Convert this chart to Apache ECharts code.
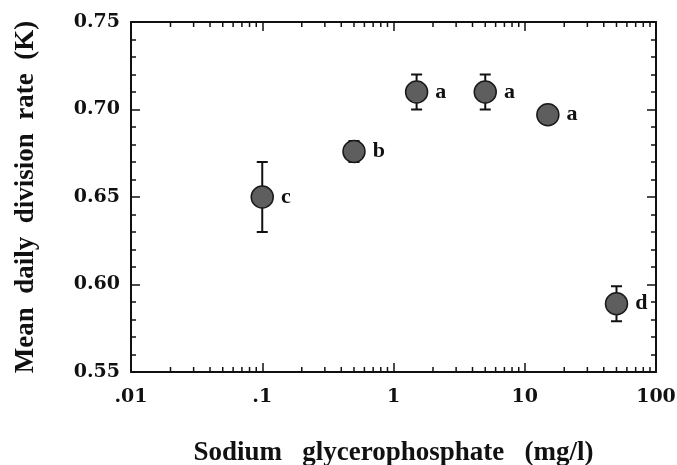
<!DOCTYPE html>
<html>
<head>
<meta charset="utf-8">
<script src="https://cdn.jsdelivr.net/npm/echarts@6/dist/echarts.min.js"></script>
<style>
  html, body { margin: 0; padding: 0; background: #fff; }
  #chart { width: 677px; height: 465px; }
</style>
</head>
<body>
<div id="chart"></div>
<script>
// sodium glycerophosphate concentration (mg/l) and mean daily division rate (K)
const concentrations = [0.1, 0.5, 1.5, 5, 15, 50];
const divisionRate = [0.650, 0.676, 0.710, 0.710, 0.697, 0.589];
const errorSize = [0.020, 0.006, 0.010, 0.010, 0.005, 0.010];
const groupLetters = ["c", "b", "a", "a", "a", "d"];
const xTickLabels = [".01", ".1", "1", "10", "100"];

const serif = "'Liberation Serif', 'Times New Roman', serif";
const tickFont = "'DejaVu Serif', serif";

// log minor ticks 2..9 in every decade
let minorTicks = [];
for (let d = -2; d < 2; d++) {
  for (let k = 2; k <= 9; k++) minorTicks.push([k * Math.pow(10, d), 0.55]);
}

const points = concentrations.map((c, i) => [c, divisionRate[i]]);
const errorBars = concentrations.map((c, i) => [
  c,
  divisionRate[i] - errorSize[i],
  divisionRate[i] + errorSize[i]
]);

const chart = echarts.init(document.getElementById("chart"));

chart.setOption({
  animation: false,
  grid: { left: 131, right: 21, top: 22, bottom: 93, outerBoundsMode: "none", containLabel: false },
  xAxis: [
    {
      type: "log",
      logBase: 10,
      min: 0.01,
      max: 100,
      name: "Sodium   glycerophosphate   (mg/l)",
      nameLocation: "middle",
      nameGap: 68,
      nameTextStyle: { fontFamily: serif, fontWeight: "bold", fontSize: 27, color: "#111" },
      axisLine: { show: true, lineStyle: { color: "#111", width: 2 } },
      axisTick: { inside: true, length: 9, lineStyle: { color: "#111", width: 1.5 } },
      splitLine: { show: false },
      axisLabel: {
        margin: 16,
        fontFamily: tickFont,
        fontWeight: "bold",
        fontSize: 19,
        color: "#111",
        formatter: v => xTickLabels[Math.round(Math.log10(v)) + 2]
      }
    },
    {
      type: "log",
      logBase: 10,
      min: 0.01,
      max: 100,
      position: "top",
      axisLine: { show: true, lineStyle: { color: "#111", width: 2 } },
      axisTick: { inside: true, length: 9, lineStyle: { color: "#111", width: 1.5 } },
      axisLabel: { show: false },
      splitLine: { show: false }
    }
  ],
  yAxis: [
    {
      type: "value",
      min: 0.55,
      max: 0.75,
      interval: 0.05,
      name: "Mean  daily  division  rate  (K)",
      nameLocation: "middle",
      nameGap: 91,
      nameTextStyle: { fontFamily: serif, fontWeight: "bold", fontSize: 27, color: "#111" },
      axisLine: { show: true, lineStyle: { color: "#111", width: 2 } },
      axisTick: { inside: true, length: 9, lineStyle: { color: "#111", width: 1.5 } },
      minorTick: { show: true, splitNumber: 5, length: 5, lineStyle: { color: "#111", width: 1.5 } },
      splitLine: { show: false },
      axisLabel: {
        margin: 11,
        padding: [5, 0, 0, 0],
        fontFamily: tickFont,
        fontWeight: "bold",
        fontSize: 19,
        color: "#111",
        formatter: v => v.toFixed(2)
      }
    },
    {
      type: "value",
      min: 0.55,
      max: 0.75,
      interval: 0.05,
      position: "right",
      axisLine: { show: true, lineStyle: { color: "#111", width: 2 } },
      axisTick: { inside: true, length: 9, lineStyle: { color: "#111", width: 1.5 } },
      minorTick: { show: true, splitNumber: 5, length: 5, lineStyle: { color: "#111", width: 1.5 } },
      axisLabel: { show: false },
      splitLine: { show: false }
    }
  ],
  series: [
    {
      // minor log ticks on bottom and top
      type: "custom",
      silent: true,
      data: minorTicks,
      renderItem: (params, api) => {
        const x = api.coord([api.value(0), api.value(1)])[0];
        const cs = params.coordSys;
        const len = 5;
        return {
          type: "group",
          children: [
            { type: "line", shape: { x1: x, y1: cs.y + cs.height, x2: x, y2: cs.y + cs.height - len }, style: { stroke: "#111", lineWidth: 1.5 } },
            { type: "line", shape: { x1: x, y1: cs.y, x2: x, y2: cs.y + len }, style: { stroke: "#111", lineWidth: 1.5 } }
          ]
        };
      }
    },
    {
      // error bars
      type: "custom",
      silent: true,
      data: errorBars,
      z: 3,
      renderItem: (params, api) => {
        const low = api.coord([api.value(0), api.value(1)]);
        const high = api.coord([api.value(0), api.value(2)]);
        const w = 5.5;
        const st = { stroke: "#111", lineWidth: 2 };
        return {
          type: "group",
          children: [
            { type: "line", shape: { x1: low[0], y1: low[1], x2: high[0], y2: high[1] }, style: st },
            { type: "line", shape: { x1: low[0] - w, y1: low[1], x2: low[0] + w, y2: low[1] }, style: st },
            { type: "line", shape: { x1: high[0] - w, y1: high[1], x2: high[0] + w, y2: high[1] }, style: st }
          ]
        };
      }
    },
    {
      type: "scatter",
      data: points,
      z: 5,
      symbol: "circle",
      symbolSize: 22,
      itemStyle: { color: "#5e5e5e", borderColor: "#1a1a1a", borderWidth: 1.5, opacity: 1 },
      label: {
        show: true,
        position: "right",
        distance: 7,
        fontFamily: serif,
        fontWeight: "bold",
        fontSize: 22,
        color: "#111",
        formatter: p => groupLetters[p.dataIndex]
      }
    }
  ]
});
</script>
</body>
</html>
